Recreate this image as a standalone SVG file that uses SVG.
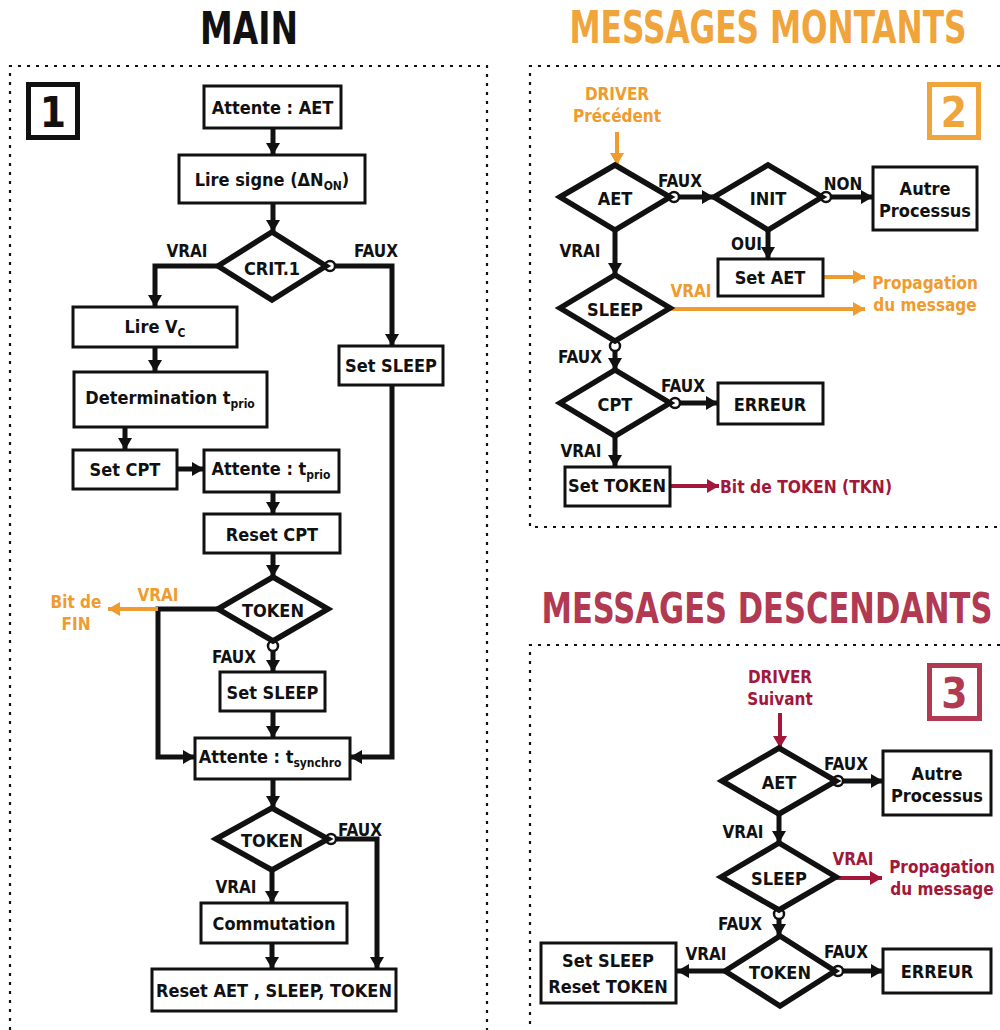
<svg xmlns="http://www.w3.org/2000/svg" width="1000" height="1030" viewBox="0 0 1000 1030">
<defs>
<style>
text{font-family:"Liberation Sans Narrow","DejaVu Sans Condensed","Liberation Sans",sans-serif;font-weight:bold;text-anchor:middle;fill:#111}
.t{font-size:18px}
.l{font-size:17px}
.o{fill:#EF9B2D}
.r{fill:#A3173A}
.ho{fill:#F0A43C}
.hr{fill:#B13A52}
.box{fill:#fff;stroke:#111;stroke-width:3}
.dia{fill:#fff;stroke:#111;stroke-width:5.5;stroke-linejoin:miter}
.num{fill:none;stroke-width:5}
.frame{fill:none;stroke:#111;stroke-width:2.2;stroke-dasharray:3 6}
.c{fill:none;stroke:#111;stroke-width:5}
.co{fill:none;stroke:#EF9B2D;stroke-width:4}
.cr{fill:none;stroke:#A3173A;stroke-width:4}
.dot{fill:#fff;stroke:#111;stroke-width:2.5}
.sub{font-size:12px}
</style>
<marker id="ab" markerUnits="userSpaceOnUse" markerWidth="12" markerHeight="14" refX="12" refY="7" orient="auto"><path d="M0,0L12,7L0,14z" fill="#111"/></marker>
<marker id="ao" markerUnits="userSpaceOnUse" markerWidth="12" markerHeight="14" refX="12" refY="7" orient="auto"><path d="M0,0L12,7L0,14z" fill="#EF9B2D"/></marker>
<marker id="ar" markerUnits="userSpaceOnUse" markerWidth="12" markerHeight="14" refX="12" refY="7" orient="auto"><path d="M0,0L12,7L0,14z" fill="#A3173A"/></marker>
</defs>
<rect width="1000" height="1030" fill="#fff"/>

<!-- Titles and frames -->
<text transform="translate(249,44) scale(1,1.16)" x="0" y="0" style="font-size:38px" textLength="98" lengthAdjust="spacingAndGlyphs">MAIN</text>
<text class="ho" transform="translate(768,43) scale(1,1.26)" x="0" y="0" style="font-size:35px" textLength="397" lengthAdjust="spacingAndGlyphs">MESSAGES MONTANTS</text>
<text class="hr" transform="translate(767,623) scale(1,1.28)" x="0" y="0" style="font-size:34px" textLength="451" lengthAdjust="spacingAndGlyphs">MESSAGES DESCENDANTS</text>
<path class="frame" d="M10,1030V66H487V1030"/>
<path class="frame" d="M1000,66H530V527H1000"/>
<path class="frame" d="M1000,645H530V1030"/>
<g id="num1"><rect class="num" x="28.5" y="84.5" width="49" height="53" stroke="#111"/><text x="53" y="127" style="font-size:42px">1</text></g>
<g id="num2"><rect class="num" x="929.5" y="84.5" width="49" height="53" stroke="#F0A43C"/><text class="ho" x="954" y="127" style="font-size:42px">2</text></g>
<g id="num3"><rect class="num" x="929.5" y="665.5" width="50" height="53" stroke="#B13A52"/><text class="hr" x="954.5" y="708" style="font-size:42px">3</text></g>

<!-- Connectors -->
<g id="connectors">
<path class="c" d="M273,128V155" marker-end="url(#ab)"/>
<path class="c" d="M273,203V232" marker-end="url(#ab)"/>
<path class="c" d="M218,266H155V307" marker-end="url(#ab)"/>
<path class="c" d="M335,266H392V346" marker-end="url(#ab)"/>
<path class="c" d="M155,347V372" marker-end="url(#ab)"/>
<path class="c" d="M125,427V450" marker-end="url(#ab)"/>
<path class="c" d="M177,469H204" marker-end="url(#ab)"/>
<path class="c" d="M273,492V514" marker-end="url(#ab)"/>
<path class="c" d="M273,553V577" marker-end="url(#ab)"/>
<path class="c" d="M273,651V672" marker-end="url(#ab)"/>
<path class="c" d="M273,711V738" marker-end="url(#ab)"/>
<path class="c" d="M392,385V757H350" marker-end="url(#ab)"/>
<path class="c" d="M218,609H158V757H195" marker-end="url(#ab)"/>
<path class="co" d="M158,609H108" marker-end="url(#ao)"/>
<path class="c" d="M273,779V808" marker-end="url(#ab)"/>
<path class="c" d="M336,839H377V969" marker-end="url(#ab)"/>
<path class="c" d="M272,870V903" marker-end="url(#ab)"/>
<path class="c" d="M272,943V969" marker-end="url(#ab)"/>
<circle class="dot" cx="330" cy="266" r="5"/>
<circle class="dot" cx="273" cy="646" r="5"/>
<circle class="dot" cx="331" cy="839" r="5"/>

<path class="co" d="M617,132V165" marker-end="url(#ao)"/>
<path class="c" d="M679,197H714" marker-end="url(#ab)"/>
<path class="c" d="M831,197H873" marker-end="url(#ab)"/>
<path class="c" d="M768,230V259" marker-end="url(#ab)"/>
<path class="co" d="M823,277H865" marker-end="url(#ao)"/>
<path class="c" d="M615,230V275" marker-end="url(#ab)"/>
<path class="co" d="M670,309H865" marker-end="url(#ao)"/>
<path class="c" d="M615,351V370" marker-end="url(#ab)"/>
<path class="c" d="M680,403H718" marker-end="url(#ab)"/>
<path class="c" d="M615,436V467" marker-end="url(#ab)"/>
<path class="cr" d="M670,486H719" marker-end="url(#ar)"/>
<circle class="dot" cx="674" cy="197" r="5"/>
<circle class="dot" cx="826" cy="197" r="5"/>
<circle class="dot" cx="615" cy="346" r="5"/>
<circle class="dot" cx="675" cy="403" r="5"/>

<path class="cr" d="M780,713V748" marker-end="url(#ar)"/>
<path class="c" d="M843,781H883" marker-end="url(#ab)"/>
<path class="c" d="M779,814V843" marker-end="url(#ab)"/>
<path class="cr" d="M836,878H882" marker-end="url(#ar)"/>
<path class="c" d="M779,919V936" marker-end="url(#ab)"/>
<path class="c" d="M843,971H883" marker-end="url(#ab)"/>
<path class="c" d="M725,971H677" marker-end="url(#ab)"/>
<circle class="dot" cx="838" cy="781" r="5"/>
<circle class="dot" cx="779" cy="914" r="5"/>
<circle class="dot" cx="838" cy="971" r="5"/>
</g>

<!-- Main nodes -->
<g id="m_attente_aet"><rect class="box" x="204" y="86" width="137" height="42"/><text class="t" x="272.5" y="114">Attente : AET</text></g>
<g id="m_lire_signe"><rect class="box" x="179" y="155" width="186" height="48"/><text class="t" x="272" y="186">Lire signe (ΔN<tspan class="sub" dy="4">ON</tspan><tspan dy="-4">)</tspan></text></g>
<g id="m_crit1"><polygon class="dia" points="218,266 272,232 326,266 272,300"/><text class="t" x="272" y="275">CRIT.1</text></g>
<g id="m_lire_vc"><rect class="box" x="73" y="307" width="164" height="40"/><text class="t" x="155" y="333">Lire V<tspan class="sub" dy="4">C</tspan></text></g>
<g id="m_set_sleep1"><rect class="box" x="339" y="346" width="104" height="39"/><text class="t" x="391" y="372">Set SLEEP</text></g>
<g id="m_determination"><rect class="box" x="74" y="372" width="193" height="55"/><text class="t" x="170" y="404">Determination t<tspan class="sub" dy="4">prio</tspan></text></g>
<g id="m_set_cpt"><rect class="box" x="73" y="450" width="104" height="39"/><text class="t" x="125" y="476">Set CPT</text></g>
<g id="m_attente_tprio"><rect class="box" x="204" y="450" width="135" height="42"/><text class="t" x="271" y="475">Attente : t<tspan class="sub" dy="4">prio</tspan></text></g>
<g id="m_reset_cpt"><rect class="box" x="204" y="514" width="136" height="39"/><text class="t" x="272" y="541">Reset CPT</text></g>
<g id="m_token1"><polygon class="dia" points="218,609 273,577 328,609 273,641"/><text class="t" x="273" y="617">TOKEN</text></g>
<g id="m_set_sleep2"><rect class="box" x="220" y="672" width="105" height="39"/><text class="t" x="272.5" y="699">Set SLEEP</text></g>
<g id="m_attente_tsynchro"><rect class="box" x="195" y="738" width="155" height="41"/><text class="t" x="270" y="763">Attente : t<tspan class="sub" dy="4">synchro</tspan></text></g>
<g id="m_token2"><polygon class="dia" points="216,839 272,808 328,839 272,870"/><text class="t" x="272" y="847">TOKEN</text></g>
<g id="m_commutation"><rect class="box" x="201" y="903" width="146" height="40"/><text class="t" x="274" y="930">Commutation</text></g>
<g id="m_reset_all"><rect class="box" x="152" y="969" width="244" height="42"/><text class="t" x="274" y="997">Reset AET , SLEEP, TOKEN</text></g>

<g id="main_labels">
<text class="l" x="187" y="257">VRAI</text>
<text class="l" x="376" y="257">FAUX</text>
<text class="l o" x="158" y="601">VRAI</text>
<text class="l o" x="76" y="608">Bit de</text>
<text class="l o" x="76" y="630">FIN</text>
<text class="l" x="234" y="663">FAUX</text>
<text class="l" x="360" y="836">FAUX</text>
<text class="l" x="236" y="893">VRAI</text>
</g>

<!-- Montants nodes -->
<g id="u_driver"><text class="l o" x="617" y="100">DRIVER</text><text class="l o" x="617" y="122">Précédent</text></g>
<g id="u_aet"><polygon class="dia" points="560,197 615,165 670,197 615,230"/><text class="t" x="615" y="205">AET</text></g>
<g id="u_init"><polygon class="dia" points="714,197 768,165 822,197 768,230"/><text class="t" x="768" y="205">INIT</text></g>
<g id="u_autre"><rect class="box" x="873" y="167" width="104" height="63"/><text class="t" x="925" y="195">Autre</text><text class="t" x="925" y="217">Processus</text></g>
<g id="u_set_aet"><rect class="box" x="718" y="259" width="105" height="37"/><text class="t" x="770" y="284">Set AET</text></g>
<g id="u_prop"><text class="l o" x="925" y="289">Propagation</text><text class="l o" x="925" y="311">du message</text></g>
<g id="u_sleep"><polygon class="dia" points="560,308 615,275 670,308 615,341"/><text class="t" x="615" y="316">SLEEP</text></g>
<g id="u_cpt"><polygon class="dia" points="560,403 615,370 670,403 615,436"/><text class="t" x="615" y="411">CPT</text></g>
<g id="u_erreur"><rect class="box" x="718" y="383" width="105" height="41"/><text class="t" x="770" y="411">ERREUR</text></g>
<g id="u_set_token"><rect class="box" x="565" y="467" width="105" height="39"/><text class="t" x="617" y="492">Set TOKEN</text></g>
<g id="u_tkn"><text class="l r" x="720" y="493" style="text-anchor:start" textLength="172" lengthAdjust="spacingAndGlyphs">Bit de TOKEN (TKN)</text></g>
<g id="u_labels">
<text class="l" x="680" y="187">FAUX</text>
<text class="l" x="843" y="190">NON</text>
<text class="l" x="762" y="250" style="text-anchor:end">OUI</text>
<text class="l" x="580" y="257">VRAI</text>
<text class="l o" x="691" y="297">VRAI</text>
<text class="l" x="580" y="363">FAUX</text>
<text class="l" x="683" y="392">FAUX</text>
<text class="l" x="581" y="457">VRAI</text>
</g>

<!-- Descendants nodes -->
<g id="d_driver"><text class="l r" x="780" y="683">DRIVER</text><text class="l r" x="780" y="705">Suivant</text></g>
<g id="d_aet"><polygon class="dia" points="722,781 779,748 836,781 779,814"/><text class="t" x="779" y="789">AET</text></g>
<g id="d_autre"><rect class="box" x="883" y="751" width="108" height="64"/><text class="t" x="937" y="780">Autre</text><text class="t" x="937" y="802">Processus</text></g>
<g id="d_sleep"><polygon class="dia" points="721,877 779,843 836,877 779,910"/><text class="t" x="779" y="885">SLEEP</text></g>
<g id="d_prop"><text class="l r" x="942" y="873">Propagation</text><text class="l r" x="942" y="895">du message</text></g>
<g id="d_token"><polygon class="dia" points="725,971 780,936 835,971 780,1006"/><text class="t" x="780" y="979">TOKEN</text></g>
<g id="d_erreur"><rect class="box" x="883" y="949" width="108" height="44"/><text class="t" x="937" y="978">ERREUR</text></g>
<g id="d_set_sleep"><rect class="box" x="541" y="943" width="135" height="60"/><text class="t" x="608" y="967">Set SLEEP</text><text class="t" x="608" y="993">Reset TOKEN</text></g>
<g id="d_labels">
<text class="l" x="846" y="770">FAUX</text>
<text class="l" x="743" y="838">VRAI</text>
<text class="l r" x="853" y="865">VRAI</text>
<text class="l" x="740" y="930">FAUX</text>
<text class="l" x="846" y="958">FAUX</text>
<text class="l" x="706" y="960">VRAI</text>
</g>
</svg>
